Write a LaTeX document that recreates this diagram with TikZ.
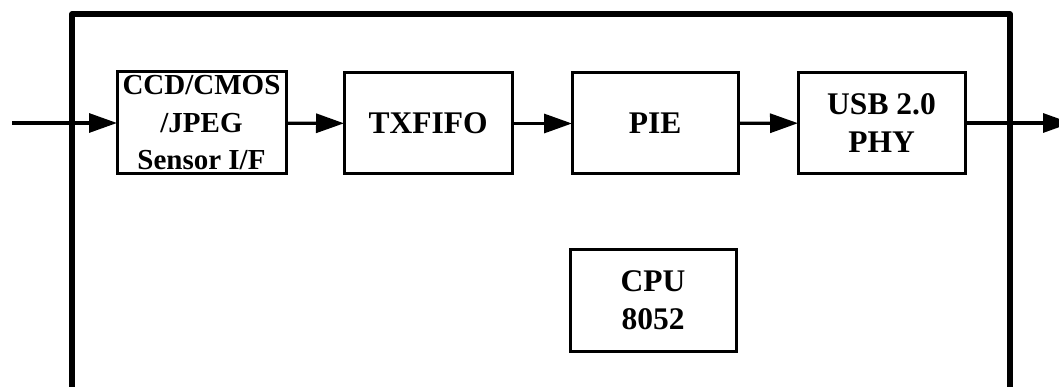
\documentclass[tikz,border=0pt]{standalone}
\usepackage{fontspec}
\setmainfont{Liberation Serif}
\usetikzlibrary{arrows.meta}
\begin{document}
\begin{tikzpicture}[x=1pt,y=-1pt,
  blk/.style={draw, line width=3pt, rectangle, inner sep=0pt, outer sep=0pt,
    align=center, font=\fontsize{31.5}{38}\selectfont\bfseries},
  small/.style={font=\fontsize{29}{37.5}\selectfont\bfseries},
  frame/.style={line width=5.5pt, line join=round},
  flow/.style={line width=3.2pt, -{Triangle[length=28pt,width=19pt]}}]
\useasboundingbox (0,0) rectangle (1059,387);
\clip (0,0) rectangle (1059,387);
\node[blk, small, minimum width=169pt, minimum height=102pt] (ccd) at (201.5,123) {CCD/CMOS\\/JPEG\\Sensor I/F};
\node[blk, minimum width=168pt, minimum height=101pt] (tx) at (428,123.5) {TXFIFO};
\node[blk, minimum width=166pt, minimum height=101pt] (pie) at (655,123.5) {PIE};
\node[blk, minimum width=167pt, minimum height=101pt] (usb) at (881.5,123) {USB 2.0\\PHY};
\node[blk, minimum width=166pt, minimum height=102pt] (cpu) at (653,300) {CPU\\8052};
\coordinate (fbl) at (72,400);
\coordinate (ftl) at (72,14);
\coordinate (ftr) at (1010,14);
\coordinate (fbr) at (1010,400);
\draw[frame] (fbl) -- (ftl) -- (ftr) -- (fbr);
\coordinate (in) at (12,123);
\coordinate (out) at (1071,123);
\draw[flow] (in) -- (ccd.west);
\draw[flow] (ccd) -- (tx);
\draw[flow] (tx) -- (pie);
\draw[flow] (pie) -- (usb);
\draw[flow] (usb.east) -- (out);
\end{tikzpicture}
\end{document}
